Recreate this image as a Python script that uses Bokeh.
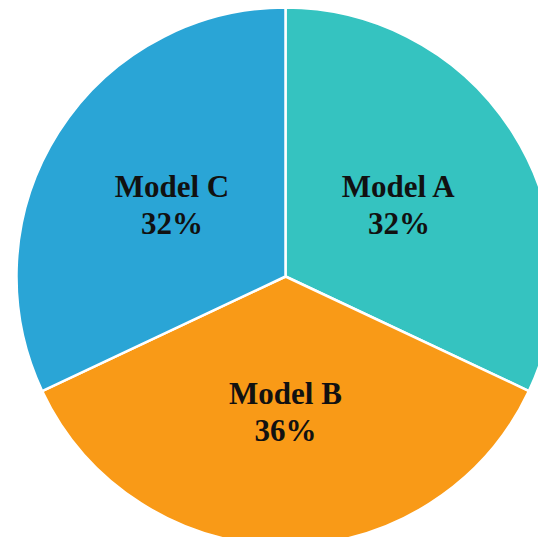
import math
from bokeh.plotting import figure
from bokeh.models import Range1d, ColumnDataSource
from bokeh.core.properties import value
from bokeh.embed import file_html
from bokeh.resources import INLINE

models = ["Model A", "Model B", "Model C"]
shares = [32, 36, 32]
colors = ["#35C3C0", "#F99A17", "#2AA5D6"]

W, H = 538, 537
p = figure(width=W, height=H, output_backend="svg", toolbar_location=None,
           x_range=Range1d(0, W), y_range=Range1d(0, H), min_border=0)
p.axis.visible = False
p.grid.visible = False
p.outline_line_color = None
p.background_fill_color = "white"

cx, cy, R = 285, H - 276, 269
total = sum(shares)
starts, ends, lx, ly, l1, l2 = [], [], [], [], [], []
cum = 0.0
for m, s in zip(models, shares):
    a0 = math.pi / 2 - 2 * math.pi * (cum + s) / total
    a1 = math.pi / 2 - 2 * math.pi * cum / total
    starts.append(a0)
    ends.append(a1)
    mid = (a0 + a1) / 2
    lx.append(cx + 0.5 * R * math.cos(mid))
    ly.append(cy + 0.5 * R * math.sin(mid))
    l1.append(m)
    l2.append(f"{s}%")
    cum += s

src = ColumnDataSource(dict(start=starts, end=ends, color=colors,
                            lx=lx, ly=ly, l1=l1, l2=l2))
p.wedge(x=cx, y=cy, radius=R, start_angle="start", end_angle="end",
        fill_color="color", line_color="white", line_width=2.5, source=src)

font = value("Liberation Serif")
p.text(x="lx", y="ly", text="l1", source=src, text_font=font, text_font_size="31px",
       text_font_style="bold", text_align="center", text_baseline="middle",
       y_offset=-18, text_color="#111111")
p.text(x="lx", y="ly", text="l2", source=src, text_font=font, text_font_size="31px",
       text_font_style="bold", text_align="center", text_baseline="middle",
       y_offset=19, text_color="#111111")

open("out.html", "w").write(file_html(p, INLINE))
